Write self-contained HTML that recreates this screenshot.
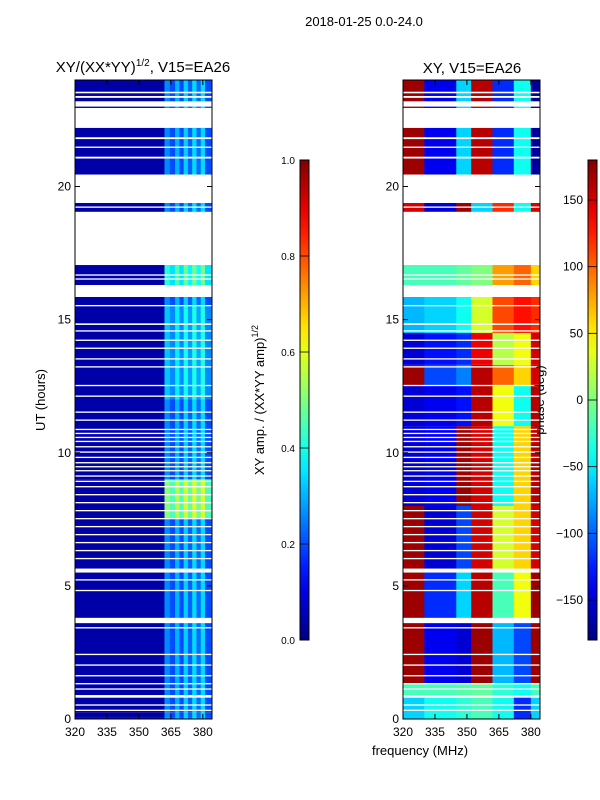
<!DOCTYPE html>
<html><head><meta charset="utf-8"><style>
body{margin:0;background:#fff;}
svg{display:block;font-family:"Liberation Sans","DejaVu Sans",sans-serif;}
</style></head><body>
<svg id="c" width="600" height="800" viewBox="0 0 600 800">
<rect width="600" height="800" fill="#fff"/>
<text x="364" y="26" font-size="13" text-anchor="middle">2018-01-25 0.0-24.0</text>
<text x="143" y="72" font-size="15" text-anchor="middle">XY/(XX*YY)<tspan font-size="10" dy="-6">1/2</tspan><tspan dy="6">, V15=EA26</tspan></text>
<text x="472" y="73" font-size="15" text-anchor="middle">XY, V15=EA26</text>
<text transform="translate(45,400) rotate(-90)" font-size="13" text-anchor="middle">UT (hours)</text>
<text x="420" y="755" font-size="13" text-anchor="middle">frequency (MHz)</text>
<text transform="translate(264,400) rotate(-90)" font-size="13" text-anchor="middle">XY amp. / (XX*YY amp)<tspan font-size="9" dy="-6">1/2</tspan></text>
<text transform="translate(544,400) rotate(-90)" font-size="13" text-anchor="middle">phase (deg)</text>
<g id="plots"></g>
</svg>
<script>
// ---- data ----
const gaps = [[23.5,23.56],[23.33,23.4],[23.0,23.2],[22.2,22.95],[21.78,21.85],[21.45,21.5],[21.05,21.12],[19.38,20.45],[19.2,19.25],[17.05,19.05],[16.65,16.7],[16.5,16.55],[15.85,16.3],[15.5,15.55],[14.8,14.86],[14.55,14.6],[14.2,14.25],[13.9,13.95],[13.5,13.55],[13.2,13.25],[12.5,12.55],[12.1,12.15],[11.5,11.55],[11.2,11.25],[10.85,10.9],[10.7,10.75],[10.55,10.6],[10.4,10.45],[10.2,10.25],[10.0,10.05],[9.8,9.85],[9.6,9.65],[9.45,9.5],[9.3,9.35],[9.1,9.15],[8.9,8.95],[8.7,8.75],[8.4,8.45],[8.1,8.15],[7.8,7.85],[7.5,7.55],[7.2,7.25],[6.9,6.95],[6.6,6.65],[6.3,6.35],[6.0,6.05],[5.5,5.65],[5.2,5.25],[4.8,4.85],[3.6,3.8],[3.4,3.45],[2.4,2.45],[2.0,2.05],[1.6,1.65],[1.3,1.35],[1.1,1.15],[0.8,0.9],[0.5,0.55],[0.3,0.35]];
const ampEdges = [320,362,364.5,367,369,371,373,375,377,379,381,384];
const ampValues = [0.04,0.26,0.2,0.3,0.2,0.33,0.22,0.34,0.23,0.34,0.2];
const ampBoostRegions = [[7.5,9.0,0.25],[15.9,17.05,0.15],[12.0,15.5,0.06]];
const phaseEdges = [320,330,345,352,362,372,380,384];
const phaseRegions = [[0,0.8],[0.8,1.3],[1.3,3.6],[3.8,5.5],[5.6,8],[8,11],[11,12.5],[12.5,13.3],[13.3,14.5],[14.5,15.85],[15.85,17.05],[19.05,19.4],[20.45,24]];
const phaseValues = [
 [-60,-40,-30,-20,-40,-120,-60],
 [-20,-20,-15,-10,-30,-40,-20],
 [170,-140,-150,170,-70,-110,170],
 [170,-120,-60,160,-20,40,170],
 [170,-150,-110,150,30,60,150],
 [-150,-140,170,150,-40,60,160],
 [-150,-140,-130,160,40,-40,160],
 [170,-110,-90,160,100,60,150],
 [-150,-130,-120,140,20,40,150],
 [-70,-60,-40,30,110,130,120],
 [-20,-20,-10,0,80,100,60],
 [150,-150,170,-60,120,-40,150],
 [170,-140,-60,160,-120,-40,-170]];
const hourTicks = [0,5,10,15,20];
const freqTicks = [320,335,350,365,380];
const ampTicks = [0,0.2,0.4,0.6,0.8,1.0];
const phaseTicks = [-150,-100,-50,0,50,100,150];

// ---- axes ----
const Y0=719, Y1=80;
const yH = h => Y0 - (h/24)*(Y0-Y1);
const xF = (x0,f) => x0 + (f-320)*(137/64.3);
const NS='http://www.w3.org/2000/svg';
const G=document.getElementById('plots');
function el(t,a,p){const e=document.createElementNS(NS,t);for(const k in a)e.setAttribute(k,a[k]);(p||G).appendChild(e);return e;}
function jet(v){v=Math.max(0,Math.min(1,v));const c=x=>Math.round(255*Math.max(0,Math.min(1,1.5-Math.abs(x))));return `rgb(${c(4*v-3)},${c(4*v-2)},${c(4*v-1)})`;}

const sg=gaps.slice().sort((a,b)=>a[0]-b[0]);
let segs=[],cur=0;
for(const g of sg){if(g[0]>cur)segs.push([cur,g[0]]);cur=Math.max(cur,g[1]);}
if(cur<24)segs.push([cur,24]);
function split(s,bounds){let out=[];for(const [a,b] of s){let pts=[a,b];for(const x of bounds)if(x>a&&x<b)pts.push(x);pts.sort((p,q)=>p-q);for(let i=0;i<pts.length-1;i++)out.push([pts[i],pts[i+1]]);}return out;}

const L=75,R=212, RL=403, RR=540;
const lp=el('g',{});
const lsegs=split(segs,ampBoostRegions.flat());
lsegs.forEach(([a,b])=>{
 const m=(a+b)/2;let boost=0;ampBoostRegions.forEach(r=>{if(m>=r[0]&&m<r[1])boost=r[2];});
 for(let i=0;i<ampValues.length;i++){
  const v=i===0?ampValues[i]:ampValues[i]+boost;
  const r=el('rect',{x:xF(L,ampEdges[i]),y:yH(b),width:xF(L,ampEdges[i+1])-xF(L,ampEdges[i])+0.3,height:yH(a)-yH(b),fill:jet(v)},lp);
  
  
 }
});
const rp=el('g',{});
const rsegs=split(segs,phaseRegions.flat());
rsegs.forEach(([a,b])=>{
 const m=(a+b)/2;let idx=-1;phaseRegions.forEach((r,i)=>{if(m>=r[0]&&m<r[1])idx=i;});
 if(idx<0)idx=m<4?2:4;
 const pv=phaseValues[idx];
 for(let i=0;i<pv.length;i++){
  const r=el('rect',{x:xF(RL,phaseEdges[i]),y:yH(b),width:xF(RL,phaseEdges[i+1])-xF(RL,phaseEdges[i])+0.3,height:yH(a)-yH(b),fill:jet((pv[i]+180)/360)},rp);
  
  
 }
});
[[L,R,'left'],[RL,RR,'right']].forEach(([x0,x1,n])=>{
 const f=el('rect',{x:x0,y:Y1,width:x1-x0,height:Y0-Y1,fill:'none',stroke:'#000','stroke-width':1});
 
 hourTicks.forEach(h=>{const y=yH(h);
  el('line',{x1:x0,x2:x0+5,y1:y,y2:y,stroke:'#000'});el('line',{x1:x1,x2:x1-5,y1:y,y2:y,stroke:'#000'});
  const t=el('text',{x:x0-4,y:y+4,'font-size':12,'text-anchor':'end'});t.textContent=h;
  });
 freqTicks.forEach(fq=>{const x=xF(x0,fq);
  el('line',{x1:x,x2:x,y1:Y0,y2:Y0-5,stroke:'#000'});el('line',{x1:x,x2:x,y1:Y1,y2:Y1+5,stroke:'#000'});
  const t=el('text',{x:x,y:Y0+17,'font-size':12,'text-anchor':'middle'});t.textContent=fq;
  });
});
const defs=el('defs',{});const gr=el('linearGradient',{id:'jg',x1:0,y1:1,x2:0,y2:0},defs);
for(let i=0;i<=20;i++)el('stop',{offset:i/20,'stop-color':jet(i/20)},gr);
const CB0=640,CB1=160;
[[300,ampTicks,v=>CB0-v*(CB0-CB1),v=>v.toFixed(1),'amp'],[588,phaseTicks,v=>CB0-(v+180)/360*(CB0-CB1),v=>v<0?'\u2212'+(-v):v,'phase']].forEach(([x,ticks,sc,fmt,n])=>{
 const r=el('rect',{x:x,y:CB1,width:9,height:CB0-CB1,fill:'url(#jg)',stroke:'#000'});
 
 ticks.forEach(v=>{const y=sc(v);el('line',{x1:x,x2:x+9,y1:y,y2:y,stroke:'#000','stroke-width':0.8});
  const t=el('text',{x:x-5,y:y+4,'font-size':n==='amp'?10:12,'text-anchor':'end'});t.textContent=fmt(v);
  });
});
</script>
</body></html>
